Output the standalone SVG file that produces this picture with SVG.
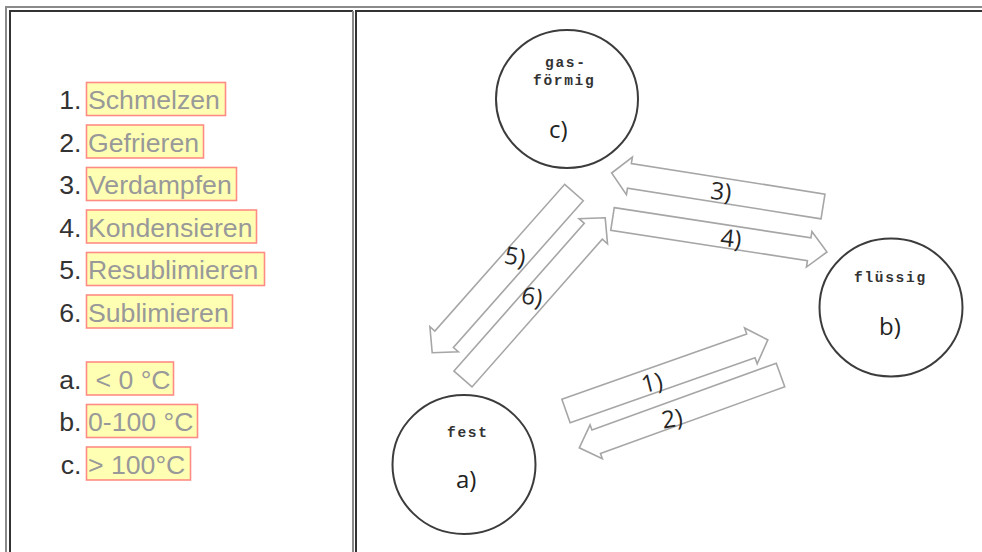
<svg xmlns="http://www.w3.org/2000/svg" width="982" height="552" viewBox="0 0 982 552">
  <style>
    .num { font-family: "Liberation Sans", Arial, sans-serif; font-size: 26.67px; fill: #333333; text-anchor: end; }
    .term { font-family: "Liberation Sans", Arial, sans-serif; font-size: 26.67px; fill: #999999; }
    .mark { fill: #ffffb4; stroke: #ff8c84; stroke-width: 1.6; }
    .state { fill: #ffffff; stroke: #3c3c3c; stroke-width: 2; }
    .phase { font-family: "Liberation Mono", "Courier New", monospace; font-size: 14.5px; font-weight: bold; letter-spacing: 1.7px; fill: #333333; }
    .tag { font-family: "Open Sans", "Noto Sans", sans-serif; font-size: 24px; fill: #222222; }
    .arrow { fill: #ffffff; stroke: #a6a6a6; stroke-width: 1.6; stroke-linejoin: miter; }
    .step { font-family: "Open Sans", "Noto Sans", sans-serif; font-size: 24px; fill: #262626; text-anchor: middle; }
  </style>

  <rect width="982" height="552" fill="#ffffff"/>

  <!-- table frame -->
  <g id="table">
    <path d="M6,560 V7 H990" fill="none" stroke="#8a8a8a" stroke-width="2"/>
    <path d="M10,560 V11 H353" fill="none" stroke="#333333" stroke-width="2"/>
    <path d="M353,11 V560" fill="none" stroke="#8a8a8a" stroke-width="2"/>
    <path d="M356,560 V11 H990" fill="none" stroke="#333333" stroke-width="2"/>
  </g>

  <!-- legend: transitions -->
  <g id="legend-transitions">
    <text class="num" x="81.5" y="109">1.</text>
    <rect class="mark" x="86.5" y="82.5" width="139" height="33"/>
    <text class="term" x="88" y="109">Schmelzen</text>

    <text class="num" x="81.5" y="151.5">2.</text>
    <rect class="mark" x="86.5" y="125" width="117" height="33"/>
    <text class="term" x="88" y="151.5">Gefrieren</text>

    <text class="num" x="81.5" y="194">3.</text>
    <rect class="mark" x="86.5" y="167.5" width="150" height="33"/>
    <text class="term" x="88" y="194">Verdampfen</text>

    <text class="num" x="81.5" y="236.5">4.</text>
    <rect class="mark" x="86.5" y="210" width="170" height="33"/>
    <text class="term" x="88" y="236.5">Kondensieren</text>

    <text class="num" x="81.5" y="279">5.</text>
    <rect class="mark" x="86.5" y="252.5" width="178" height="33"/>
    <text class="term" x="88" y="279">Resublimieren</text>

    <text class="num" x="81.5" y="321.5">6.</text>
    <rect class="mark" x="86.5" y="295" width="146" height="33"/>
    <text class="term" x="88" y="321.5">Sublimieren</text>
  </g>

  <!-- legend: temperature ranges -->
  <g id="legend-temperatures">
    <text class="num" x="81.5" y="388.5">a.</text>
    <rect class="mark" x="86.5" y="362" width="87" height="33"/>
    <text class="term" x="95.5" y="388.5">&lt; 0 °C</text>

    <text class="num" x="81.5" y="431">b.</text>
    <rect class="mark" x="86.5" y="404.5" width="111" height="33"/>
    <text class="term" x="88" y="431">0-100 °C</text>

    <text class="num" x="81.5" y="473.5">c.</text>
    <rect class="mark" x="86.5" y="447" width="104" height="33"/>
    <text class="term" x="88" y="473.5">&gt; 100°C</text>
  </g>

  <!-- connectors: block arrows between the states -->
  <g id="connectors">
    <g id="arrow-1" transform="translate(566,411) rotate(-19.4)">
      <polygon class="arrow" points="0,-12.5 196,-12.5 196,-19 214,0 196,19 196,12.5 0,12.5"/>
    </g>
    <g id="arrow-2" transform="translate(780.5,375) rotate(160.1)">
      <polygon class="arrow" points="0,-12.5 196,-12.5 196,-18 214,0 196,18 196,12.5 0,12.5"/>
    </g>
    <g id="arrow-3" transform="translate(823,206.5) rotate(189)">
      <polygon class="arrow" points="0,-12.5 196,-12.5 196,-19 214,0 196,19 196,12.5 0,12.5"/>
    </g>
    <g id="arrow-4" transform="translate(612.5,219) rotate(8.75)">
      <polygon class="arrow" points="0,-11.5 199,-11.5 199,-18 217,0 199,18 199,11.5 0,11.5"/>
    </g>
    <g id="arrow-5" transform="translate(574,192.5) rotate(131.5)">
      <polygon class="arrow" points="0,-12.4 196,-12.4 196,-19 214,0 196,19 196,12.4 0,12.4"/>
    </g>
    <g id="arrow-6" transform="translate(463,379) rotate(-48.6)">
      <polygon class="arrow" points="0,-12 197,-12 197,-19 215,0 197,19 197,12 0,12"/>
    </g>

    <text class="step" x="652" y="391" transform="rotate(-14 652 383)">1)</text>
    <text class="step" x="672" y="427" transform="rotate(-10 672 419)">2)</text>
    <text class="step" x="721" y="200" transform="rotate(6 721 192)">3)</text>
    <text class="step" x="731" y="247" transform="rotate(6 731 239)">4)</text>
    <text class="step" x="515" y="265" transform="rotate(10 515 257)">5)</text>
    <text class="step" x="532" y="305" transform="rotate(10 532 297)">6)</text>
  </g>

  <!-- state nodes -->
  <g id="node-gas">
    <ellipse class="state" cx="567" cy="99" rx="71" ry="69"/>
    <text class="phase" x="545" y="67">gas-</text>
    <text class="phase" x="533" y="85">förmig</text>
    <text class="tag" x="549" y="138">c)</text>
  </g>

  <g id="node-liquid">
    <ellipse class="state" cx="891" cy="307.5" rx="71.5" ry="69"/>
    <text class="phase" x="854" y="282">flüssig</text>
    <text class="tag" x="879" y="335">b)</text>
  </g>

  <g id="node-solid">
    <ellipse class="state" cx="464" cy="464.5" rx="71.5" ry="69.5"/>
    <text class="phase" x="447" y="436.5">fest</text>
    <text class="tag" x="456" y="488">a)</text>
  </g>
</svg>
